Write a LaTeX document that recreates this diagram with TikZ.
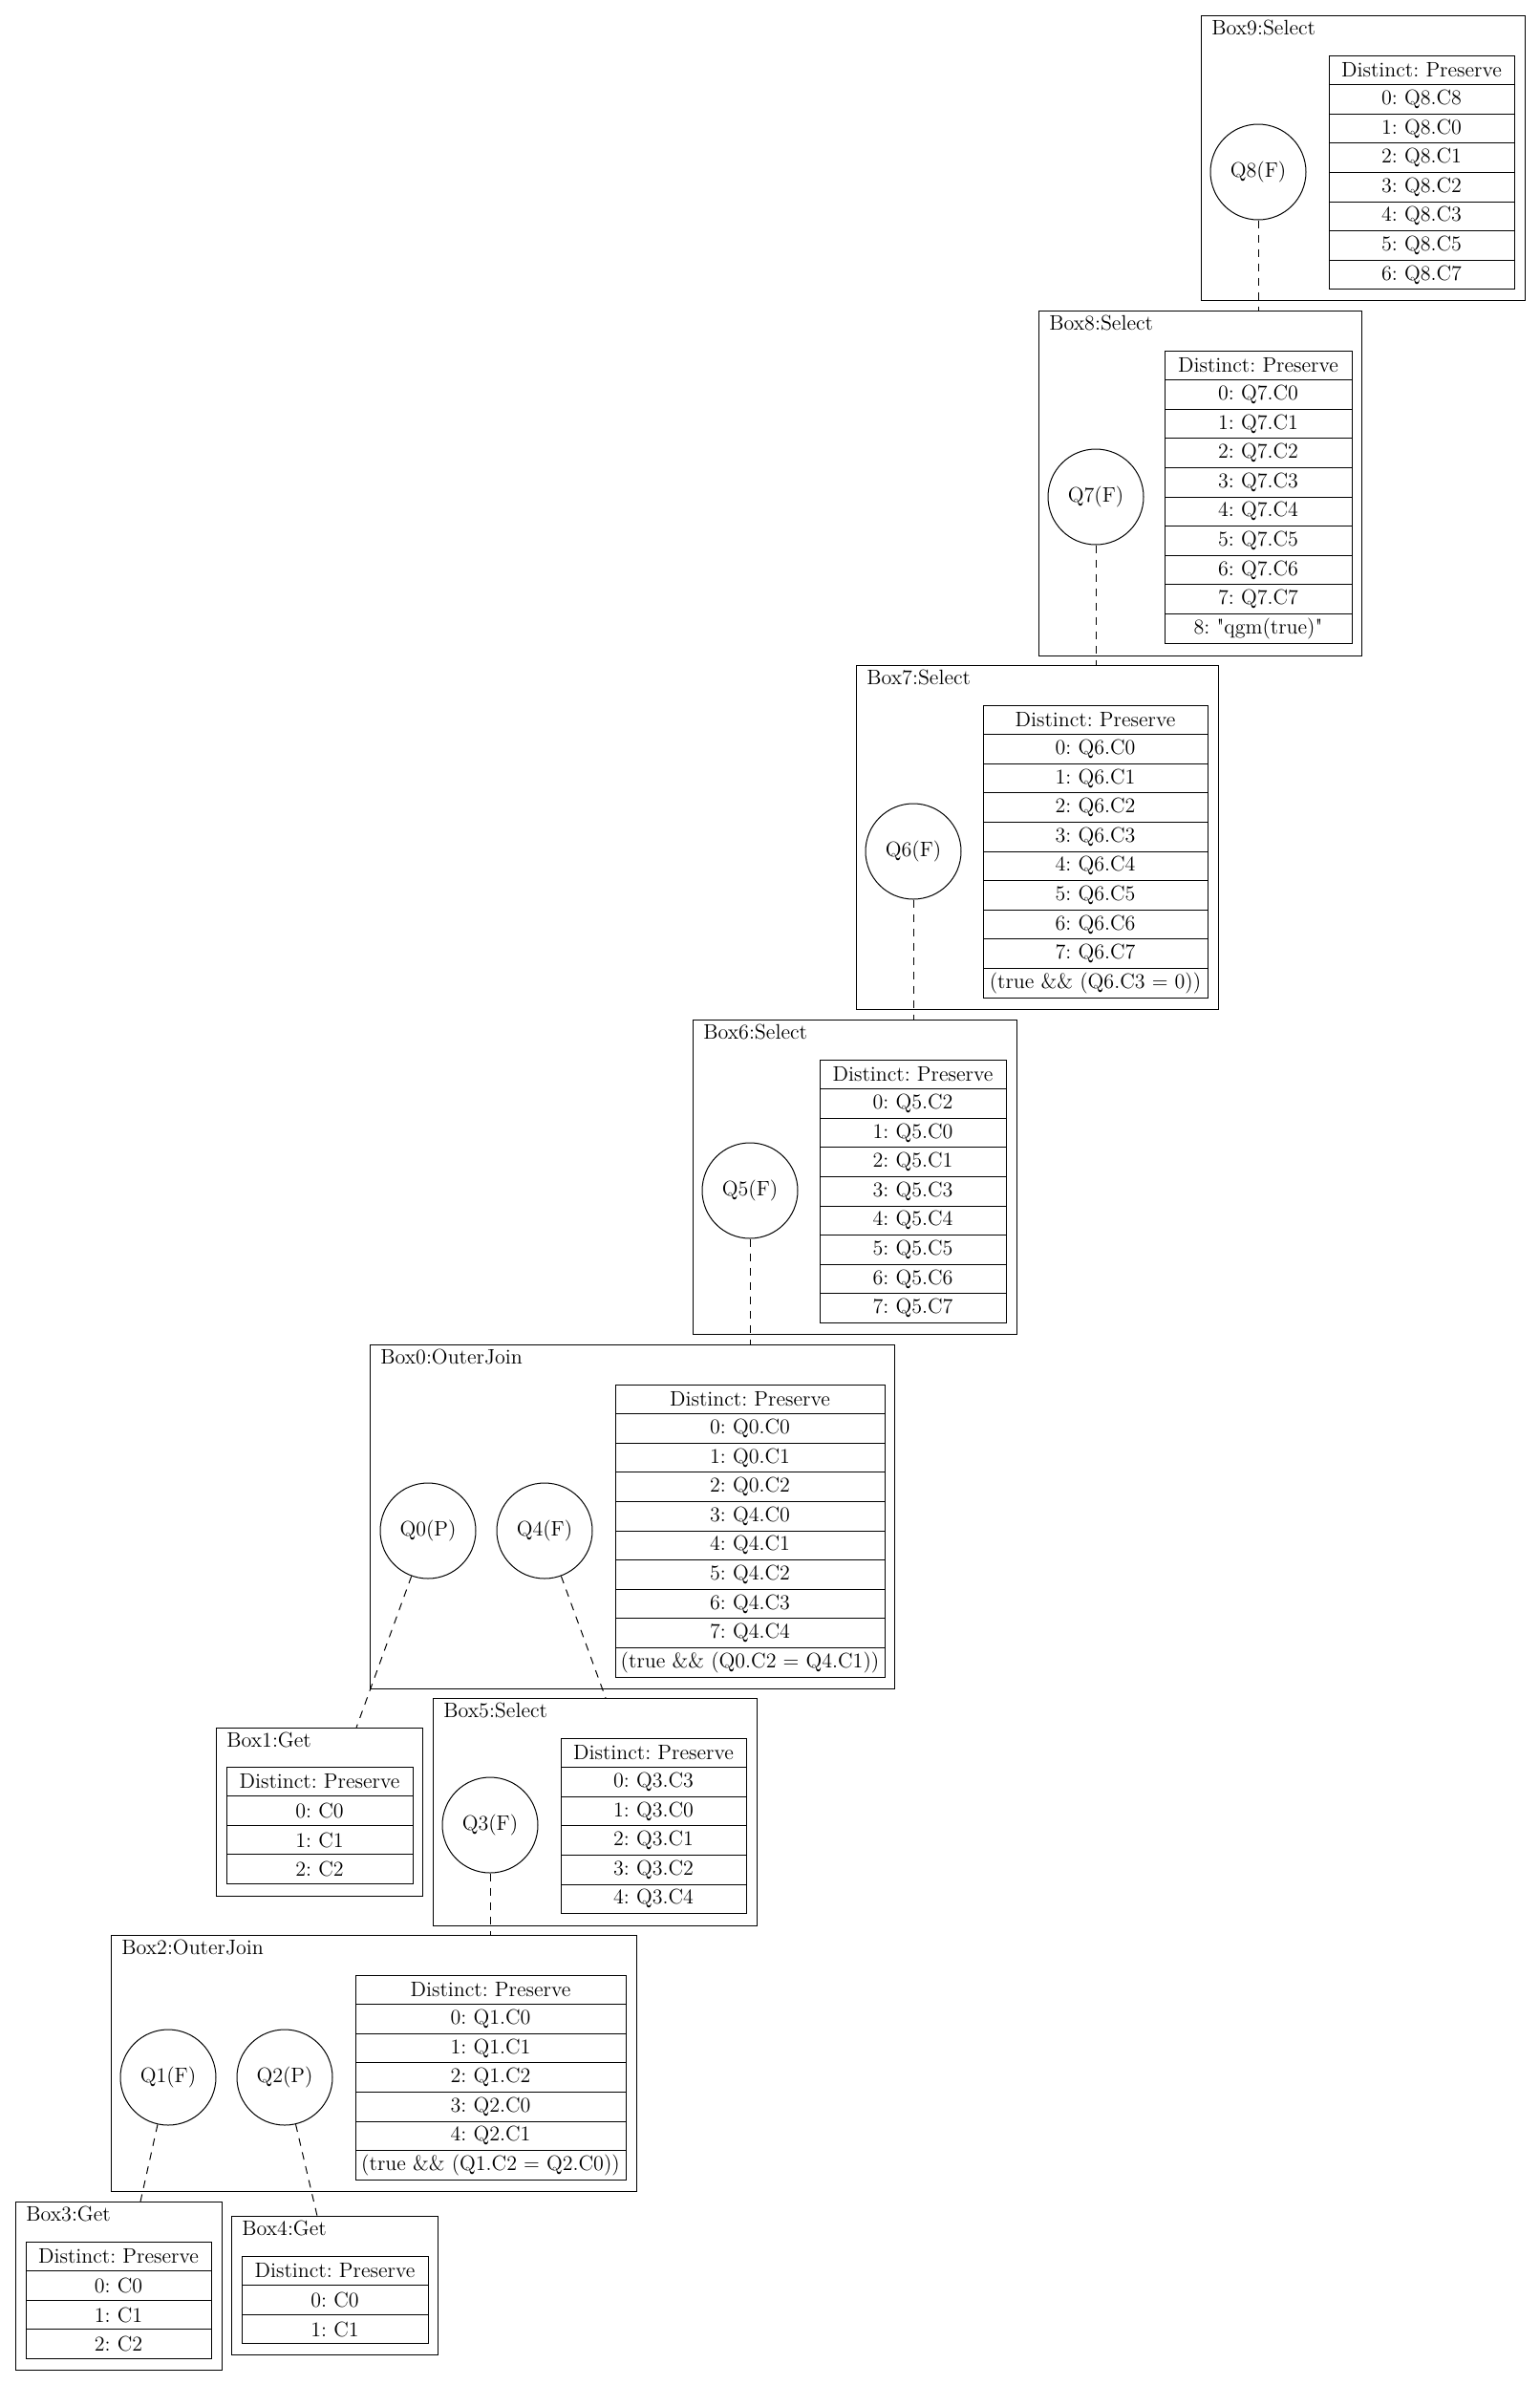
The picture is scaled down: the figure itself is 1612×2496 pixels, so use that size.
\documentclass[tikz,border=0pt]{standalone}
\usetikzlibrary{calc}
\frenchspacing
\tikzset{
  every node/.style={font=\fontsize{11}{12}\selectfont},
  cell/.style={draw, rectangle, inner sep=0pt, minimum height=15.3pt, line width=0.5pt},
  qcirc/.style={draw, circle, minimum size=50pt, inner sep=0pt, line width=0.5pt},
  boxframe/.style={draw, rectangle, inner sep=0pt, line width=0.5pt},
  boxtitle/.style={anchor=base west, inner sep=0pt},
  link/.style={dash pattern=on 4pt off 3.5pt, line width=0.5pt},
}
% name, L, T, R, B, title
\newcommand\qbox[6]{%
  \node[boxframe, minimum width={(#4-#2)*0.5pt}, minimum height={(#5-#3)*0.5pt}] (#1) at ({(#2+#4)/2},{(#3+#5)/2}) {};
  \node[boxtitle] (#1-title) at ({#2+11},{#3+20}) {#6};}
% name, L, R, T, rows
\newcommand\qtab[5]{%
  \foreach \txt [count=\i from 0] in {#5} {%
    \node[cell, minimum width={(#3-#2)*0.5pt}] (#1-\i) at ({(#2+#3)/2},{#4+30.6*\i+15.3}) {\txt};}}
\begin{document}
\begin{tikzpicture}[x=0.5pt, y=-0.5pt]
\useasboundingbox (0,0) rectangle (1612,2496);

% Box9
\qbox{box9}{1257}{16}{1596}{314}{Box9:Select}
\qtab{t9}{1391}{1585}{58}{Distinct: Preserve,0: Q8.C8,1: Q8.C0,2: Q8.C1,3: Q8.C2,4: Q8.C3,5: Q8.C5,6: Q8.C7}
\node[qcirc] (q8) at (1317,180) {Q8(F)};

% Box8
\qbox{box8}{1087}{325}{1425}{686}{Box8:Select}
\qtab{t8}{1219}{1415}{367}{Distinct: Preserve,0: Q7.C0,1: Q7.C1,2: Q7.C2,3: Q7.C3,4: Q7.C4,5: Q7.C5,6: Q7.C6,7: Q7.C7,8: \textquotedbl qgm(true)\textquotedbl}
\node[qcirc] (q7) at (1147,520) {Q7(F)};

% Box7
\qbox{box7}{896}{696}{1275}{1056}{Box7:Select}
\qtab{t7}{1029}{1264}{738}{Distinct: Preserve,0: Q6.C0,1: Q6.C1,2: Q6.C2,3: Q6.C3,4: Q6.C4,5: Q6.C5,6: Q6.C6,7: Q6.C7,(true \&\& (Q6.C3 = 0))}
\node[qcirc] (q6) at (956,891) {Q6(F)};

% Box6
\qbox{box6}{725}{1067}{1064}{1396}{Box6:Select}
\qtab{t6}{858}{1053}{1109}{Distinct: Preserve,0: Q5.C2,1: Q5.C0,2: Q5.C1,3: Q5.C3,4: Q5.C4,5: Q5.C5,6: Q5.C6,7: Q5.C7}
\node[qcirc] (q5) at (785,1246) {Q5(F)};

% Box0
\qbox{box0}{387}{1407}{936}{1767}{Box0:OuterJoin}
\qtab{t0}{644}{926}{1449}{Distinct: Preserve,0: Q0.C0,1: Q0.C1,2: Q0.C2,3: Q4.C0,4: Q4.C1,5: Q4.C2,6: Q4.C3,7: Q4.C4,(true \&\& (Q0.C2 = Q4.C1))}
\node[qcirc] (q0) at (448,1602) {Q0(P)};
\node[qcirc] (q4) at (570,1602) {Q4(F)};

% Box1
\qbox{box1}{226}{1808}{442}{1984}{Box1:Get}
\qtab{t1}{237}{432}{1849}{Distinct: Preserve,0: C0,1: C1,2: C2}

% Box5
\qbox{box5}{453}{1777}{792}{2015}{Box5:Select}
\qtab{t5}{587}{781}{1819}{Distinct: Preserve,0: Q3.C3,1: Q3.C0,2: Q3.C1,3: Q3.C2,4: Q3.C4}
\node[qcirc] (q3) at (513,1910) {Q3(F)};

% Box2
\qbox{box2}{116}{2025}{666}{2293}{Box2:OuterJoin}
\qtab{t2}{372}{655}{2067}{Distinct: Preserve,0: Q1.C0,1: Q1.C1,2: Q1.C2,3: Q2.C0,4: Q2.C1,(true \&\& (Q1.C2 = Q2.C0))}
\node[qcirc] (q1) at (176,2174) {Q1(F)};
\node[qcirc] (q2) at (298,2174) {Q2(P)};

% Box3
\qbox{box3}{16}{2304}{232}{2480}{Box3:Get}
\qtab{t3}{27}{221}{2346}{Distinct: Preserve,0: C0,1: C1,2: C2}

% Box4
\qbox{box4}{242}{2319}{458}{2464}{Box4:Get}
\qtab{t4}{253}{448}{2361}{Distinct: Preserve,0: C0,1: C1}

% connectors
\coordinate (e8) at (q8.south |- box8.north);
\coordinate (e7) at (q7.south |- box7.north);
\coordinate (e6) at (q6.south |- box6.north);
\coordinate (e5) at (q5.south |- box0.north);
\coordinate (e0) at (373,1808);
\coordinate (e4) at (634,1777);
\coordinate (e3) at (q3.south |- box2.north);
\coordinate (e1) at (147,2304);
\coordinate (e2) at (332,2319);
\draw[link] (q8.south) -- (e8);
\draw[link] (q7.south) -- (e7);
\draw[link] (q6.south) -- (e6);
\draw[link] (q5.south) -- (e5);
\draw[link] (q0) -- (e0);
\draw[link] (q4) -- (e4);
\draw[link] (q3.south) -- (e3);
\draw[link] (q1) -- (e1);
\draw[link] (q2) -- (e2);
\end{tikzpicture}
\end{document}
